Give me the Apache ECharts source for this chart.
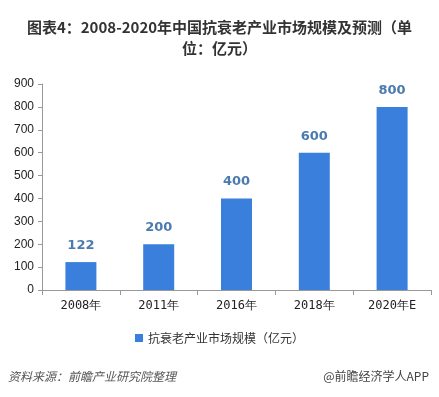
<!DOCTYPE html>
<html><head><meta charset="utf-8">
<script src="https://cdn.jsdelivr.net/npm/echarts@6/dist/echarts.min.js"></script>
<style>html,body{margin:0;padding:0;background:#fff}#c{width:439px;height:397px}</style>
</head><body><div id="c"></div>
<script>
const categories = ['2008年','2011年','2016年','2018年','2020年E'];
const marketSize = [122, 200, 400, 600, 800];
const seriesName = '抗衰老产业市场规模（亿元）';
const yTicks = {min:0, max:900, interval:100};

const chart = echarts.init(document.getElementById('c'));
const font = '"Noto Sans CJK SC", "Microsoft YaHei", sans-serif';
chart.setOption({
  backgroundColor:'#fff',
  animation:false,
  title:{
    text:'图表4：2008-2020年中国抗衰老产业市场规模及预测（单\n位：亿元）',
    left:'center', top:12,
    textStyle:{fontSize:15, fontWeight:'bold', color:'#333', fontFamily:font, lineHeight:21}
  },
  graphic:[
    {type:'text', left:8, top:370, style:{text:'资料来源：前瞻产业研究院整理', fill:'#555', font:'italic 12px '+font}},
    {type:'text', right:10, top:370, style:{text:'@前瞻经济学人APP', fill:'#444', font:'12px '+font}}
  ],
  grid:{left:42, right:8, top:84, bottom:107},
  legend:{bottom:48, left:'center', itemWidth:8, itemHeight:8, icon:'rect', itemGap:4,
    textStyle:{fontSize:12, color:'#333', fontFamily:font}},
  xAxis:{type:'category', data:categories,
    axisLine:{lineStyle:{color:'#999'}},
    axisTick:{show:true, lineStyle:{color:'#999'}},
    axisLabel:{color:'#222', fontSize:12, margin:10, fontFamily:'"DejaVu Sans Mono", monospace'}},
  yAxis:{type:'value', min:yTicks.min, max:yTicks.max, interval:yTicks.interval,
    axisLine:{show:true, lineStyle:{color:'#999'}},
    axisTick:{show:true, length:4, lineStyle:{color:'#999'}},
    splitLine:{show:false},
    axisLabel:{color:'#222', fontSize:12, margin:8, fontFamily:'"Liberation Sans", sans-serif'}},
  series:[{
    name:seriesName, type:'bar', data:marketSize, barWidth:31,
    itemStyle:{color:'#3a7fdc'},
    label:{show:true, position:'top', distance:10, color:'#4a7ab0', fontSize:13, fontWeight:'bold', fontFamily:'"DejaVu Sans", sans-serif'}
  }]
});
</script></body></html>
